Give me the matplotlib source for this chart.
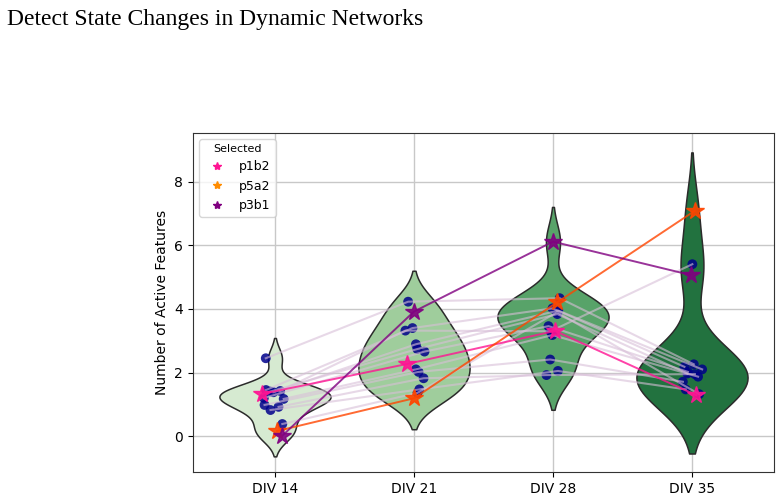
import numpy as np
import pandas as pd
import matplotlib
matplotlib.use("Agg")
import matplotlib.pyplot as plt
from matplotlib.lines import Line2D
import seaborn as sns

# ---- data ----
divs = ["DIV 14", "DIV 21", "DIV 28", "DIV 35"]
div14 = [2.45, 1.45, 1.42, 1.38, 1.40, 1.20, 1.17, 0.98, 0.92, 0.82, 0.38]
div21 = [4.23, 3.40, 3.32, 2.89, 2.74, 2.66, 2.10, 2.02, 1.82, 1.47, 1.36]
div28 = [4.34, 4.02, 3.30, 3.95, 3.84, 3.46, 3.18, 2.41, 1.92, 2.05, 3.90]
div35 = [2.26, 2.18, 5.41, 2.10, 1.97, 2.02, 1.87, 1.71, 1.95, 1.47, 1.32]

sel_names = ["p1b2", "p5a2", "p3b1"]
p1b2 = [1.33, 2.27, 3.31, 1.29]
p5a2 = [0.16, 1.19, 4.21, 7.09]
p3b1 = [0.00, 3.92, 6.12, 5.07]

# ---- styles ----
sel_line_colors = ["#ff1493", "#ff4500", "#800080"]
sel_legend_colors = ["#ff1493", "#ff8c00", "#800080"]
sel_offsets = [[-0.09, -0.05, 0.015, 0.03], [0.015, 0.0, 0.03, 0.02], [0.05, 0.0, 0.0, -0.01]]

samples = np.array([div14, div21, div28, div35]).T  # rows = samples
sel = np.array([p1b2, p5a2, p3b1])
allvals = np.vstack([samples, sel])

df = pd.DataFrame({
    "DIV": np.repeat(divs, allvals.shape[0]),
    "val": allvals.T.ravel(),
})

fig = plt.figure(figsize=(7.8, 4.96), dpi=100)
ax = fig.add_axes([0.2474, 0.0484, 0.9923 - 0.2474, 0.7319 - 0.0484])

try:
    sns.violinplot(data=df, x="DIV", y="val", hue="DIV", order=divs, palette="Greens",
                   density_norm="width", inner=None, linewidth=1.1, linecolor="#2b2b2b",
                   bw_adjust=0.87, legend=False, ax=ax)
except TypeError:
    sns.violinplot(data=df, x="DIV", y="val", order=divs, palette="Greens",
                   scale="width", inner=None, linewidth=1.1, ax=ax)
for c in ax.collections:
    c.set_zorder(2)

ax.set_axisbelow(True)
ax.grid(True, axis="both", color="#c8c8c8", linewidth=1.0)
ax.xaxis.grid(True, color="#c8c8c8", linewidth=1.0)

rng = np.random.default_rng(3)
xs = np.arange(len(divs))
jit = rng.uniform(-0.08, 0.08, size=samples.shape)
for i in range(samples.shape[0]):
    ax.plot(xs + jit[i], samples[i], color="thistle", alpha=0.6, lw=1.5, zorder=4)
for j in range(len(divs)):
    ax.scatter(xs[j] + jit[:, j], samples[:, j], s=50, color="#00008b", alpha=0.85,
               zorder=3, edgecolor="none")

for k in range(sel.shape[0]):
    xx = xs + np.array(sel_offsets[k])
    ax.plot(xx, sel[k], color=sel_line_colors[k], alpha=0.8, lw=1.4, zorder=5)
    ax.plot(xx, sel[k], linestyle="none", marker="*", markersize=13,
            color=sel_line_colors[k], alpha=0.9, zorder=6)

handles = [Line2D([], [], linestyle="none", marker="*", markersize=6,
                  color=c, label=n) for c, n in zip(sel_legend_colors, sel_names)]
leg = ax.legend(handles=handles, title="Selected", loc="upper left", fontsize=9,
                title_fontsize=8, frameon=True)

ax.set_xlim(-0.59, 3.59)
ax.set_ylim(-1.13, 9.54)
ax.set_yticks([0, 2, 4, 6, 8])
ax.set_xlabel("")
ax.set_ylabel("Number of Active Features", fontsize=10)
for s in ax.spines.values():
    s.set_color("#333333")

fig.text(0.009, 0.982, "Detect State Changes in Dynamic Networks",
         family="Liberation Serif", fontsize=17, ha="left", va="top")

fig.savefig("out.png", dpi=100)
